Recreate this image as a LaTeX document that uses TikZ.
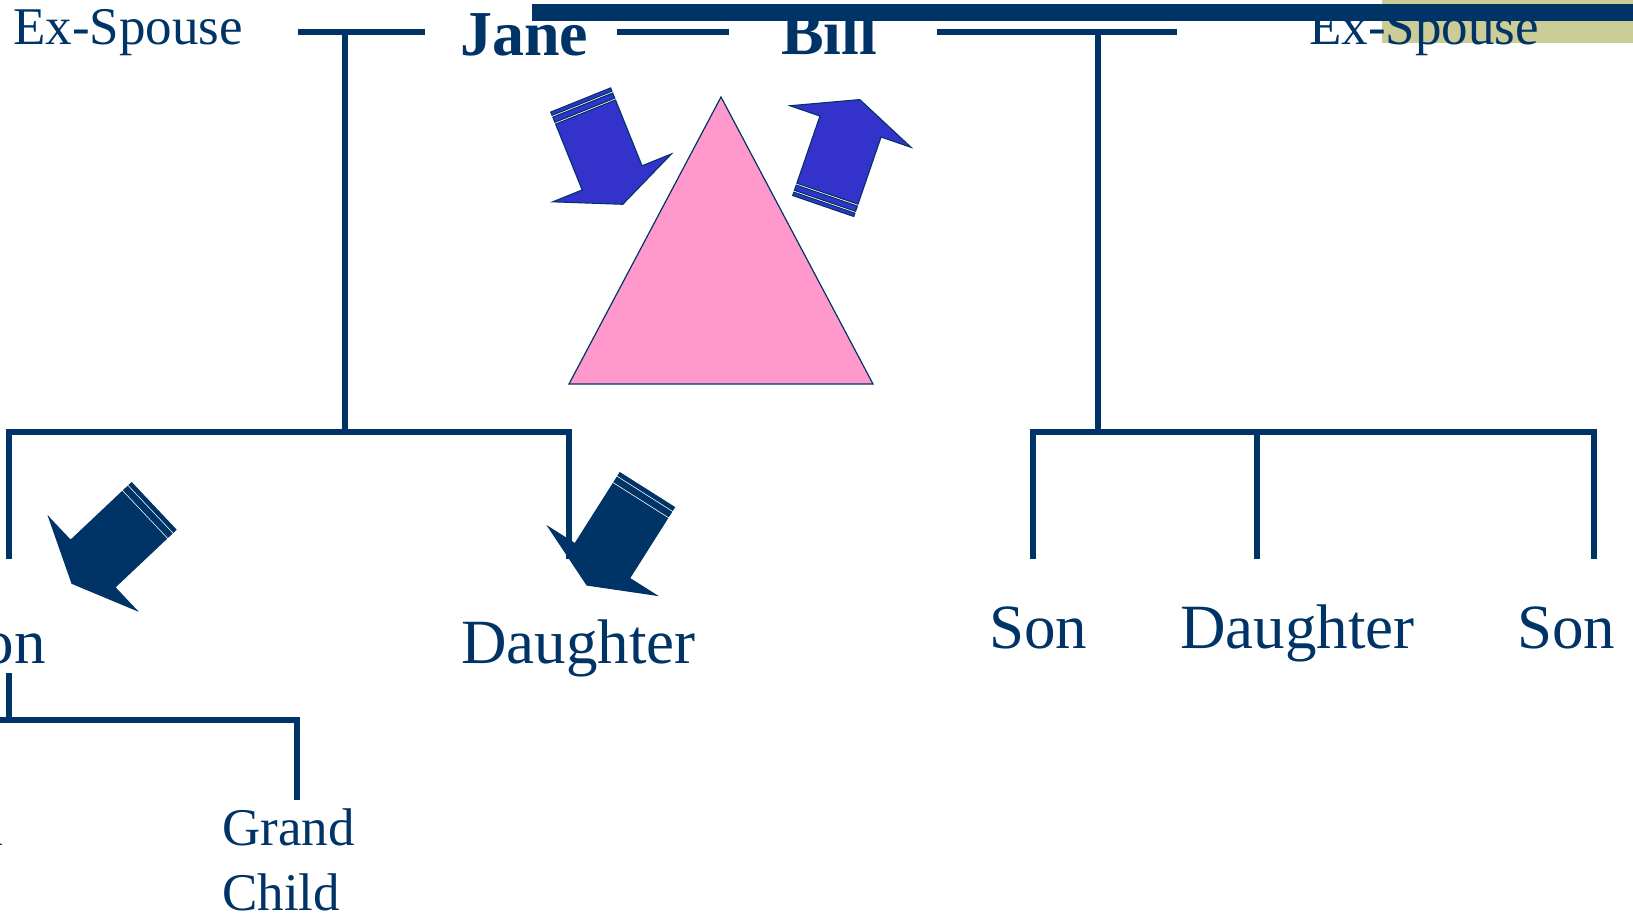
\documentclass[tikz,border=0pt]{standalone}
\usepackage{fontspec}
\setmainfont{Liberation Serif}
\definecolor{navy}{HTML}{003366}
\definecolor{pinkfill}{HTML}{FF99CC}
\definecolor{bluefill}{HTML}{3333CC}
\definecolor{khaki}{HTML}{CCCC99}
\newcommand{\stripedarrowshape}[1]{%
  \draw[#1] (0,-32.3) -- (0,32.3) -- (3.5,32.3) -- (3.5,-32.3) -- cycle;
  \draw[#1] (5.5,-32.3) -- (5.5,32.3) -- (11,32.3) -- (11,-32.3) -- cycle;
  \draw[#1] (13,-32.3) -- (13,32.3) -- (84,32.3) -- (84,64) -- (112.5,0) -- (84,-64) -- (84,-32.3) -- cycle;
}
\begin{document}
\begin{tikzpicture}[x=1pt,y=-1pt,
  treeline/.style={draw=navy, line width=6pt},
  smalltext/.style={inner sep=0pt, anchor=base west, text=navy, font=\fontsize{53}{65}\selectfont},
  largetext/.style={inner sep=0pt, anchor=base west, text=navy, font=\fontsize{63}{75}\selectfont},
  nametext/.style={inner sep=0pt, anchor=base west, text=navy, font=\fontsize{64}{75}\selectfont\bfseries},
  bluearrow/.style={fill=bluefill, draw=navy, line width=1.1pt},
  navyarrow/.style={fill=navy, draw=navy, line width=1.1pt}]
\path[use as bounding box] (0,0) rectangle (1633,915);
\clip (0,0) rectangle (1633,915);

% background band
\fill[khaki] (1382,0) rectangle (1633,43);

% texts
\node[smalltext] (exL) at (13,45) {Ex-Spouse};
\node[smalltext] (exR) at (1309,45) {Ex-Spouse};
\node[nametext] (jane) at (460,56) {Jane};
\node[nametext] (bill) at (781,55) {Bill};
\node[largetext, anchor=base east] (sonL) at (46,663) {Son};
\node[largetext] (dauL) at (461,663) {Daughter};
\node[largetext] (son1) at (989,648) {Son};
\node[largetext] (dau1) at (1180,648) {Daughter};
\node[largetext] (son2) at (1517,648) {Son};
\node[smalltext, anchor=north west, align=left] (gc) at (222,809) {Grand\\Child};
\node[smalltext, anchor=north west, align=left] (gcL) at (-130,809) {Grand\\Child};

% top bar
\fill[navy] (532,4) rectangle (1633,21);

% junction coordinates
\coordinate (mLa) at (298,32);
\coordinate (mLb) at (425,32);
\coordinate (mLc) at (345,32);
\coordinate (kL) at (345,432);
\coordinate (kLa) at (8.5,559);
\coordinate (kLb) at (569,559);
\coordinate (jb1) at (617,32);
\coordinate (jb2) at (729,32);
\coordinate (mRa) at (937,32);
\coordinate (mRb) at (1177,32);
\coordinate (mRc) at (1098,32);
\coordinate (kR) at (1098,432);
\coordinate (kRa) at (1033,559);
\coordinate (kRb) at (1257,559);
\coordinate (kRc) at (1594,559);
\coordinate (gS) at (8.5,673);
\coordinate (gJ) at (8.5,720);
\coordinate (gW) at (-20,720);
\coordinate (gE) at (297,800);

% tree lines
\draw[treeline] (mLa) -- (mLb);
\draw[treeline] (mLc) -- (kL);
\draw[treeline] (kLa) |- (kL) -| (kLb);
\draw[treeline] (jb1) -- (jb2);
\draw[treeline] (mRa) -- (mRb);
\draw[treeline] (mRc) -- (kR);
\draw[treeline] (kRa) |- (kR) -| (kRc);
\draw[treeline] (kRb) -- (kRb |- kR);
\draw[treeline] (gS) -- (gJ);
\draw[treeline] (gW) -| (gE);

% triangle
\draw[fill=pinkfill, draw=navy, line width=1.2pt, line join=miter] (721,97) -- (873,384) -- (569,384) -- cycle;

% striped arrows
\begin{scope}[shift={(580.7,100)}, x={(0.374pt,-0.927pt)}, y={(0.927pt,0.374pt)}]
  \stripedarrowshape{bluearrow}
\end{scope}
\begin{scope}[shift={(823.2,206)}, x={(0.325pt,0.946pt)}, y={(0.946pt,-0.325pt)}]
  \stripedarrowshape{bluearrow}
\end{scope}
\begin{scope}[shift={(153.8,506.2)}, x={(-0.727pt,-0.686pt)}, y={(0.686pt,-0.727pt)}]
  \stripedarrowshape{navyarrow}
\end{scope}
\begin{scope}[shift={(647.2,490)}, x={(-0.535pt,-0.845pt)}, y={(0.845pt,-0.535pt)}]
  \stripedarrowshape{navyarrow}
\end{scope}
\end{tikzpicture}
\end{document}
